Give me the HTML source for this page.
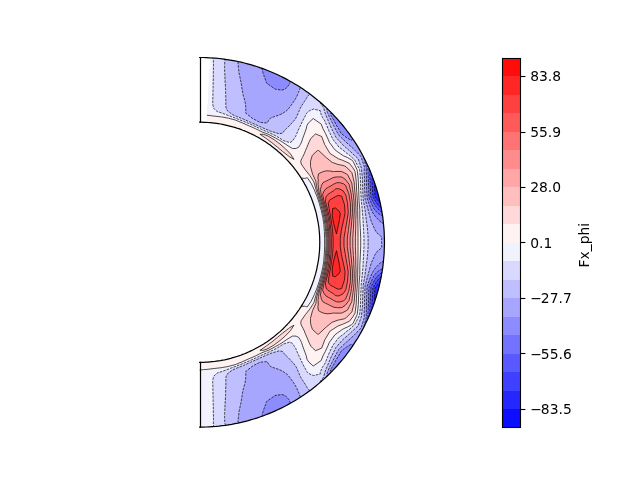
<!DOCTYPE html>
<html><head><meta charset="utf-8"><title>Fx_phi</title>
<style>html,body{margin:0;padding:0;background:#fff}svg{display:block}</style></head>
<body>
<svg width="640" height="480" viewBox="0 0 640 480">
<rect width="640" height="480" fill="#fff"/>
<g shape-rendering="crispEdges" stroke="none">
<path fill="#2626ff" fill-rule="evenodd" d="M374.5,185.5 374.6,184.7 374.4,182.9 374.1,181.6 375.4,185.2 378.4,195.3 380.3,203.5 379.8,202.1 379.2,201.5 378.2,200.8 376.7,198.9 374.8,196.3 374.7,191.5 374.4,186.9ZM374.8,288.3 376.7,285.7 378.2,283.8 379.2,283.1 379.8,282.5 380.3,281.1 378.4,289.3 375.4,299.4 374.1,303 374.4,301.7 374.6,299.9 374.5,299.1 374.4,297.7 374.7,293.1Z"/>
<path fill="#4040ff" fill-rule="evenodd" d="M371.7,175.3 371.7,174.8 371.9,175.3 374.1,181.6 374.4,182.9 374.6,184.7 374.5,185.5 374.4,186.9 374.7,191.5 374.8,196.3 376.7,198.9 378.2,200.8 379.2,201.5 379.8,202.1 380.3,203.5 380.8,205.6 381.3,208.4 381,207.7 380.5,207.4 379.6,206.8 378.8,206 378.2,205.2 376.1,202.2 373.3,197.6 372.9,196.8 372.8,195.7 372.4,188.5 372.3,186.2 372.1,183.3 372,179.7 372,177.5 371.8,175.5ZM378.8,278.6 379.6,277.8 380.5,277.2 381,276.9 381.3,276.2 380.8,279 380.3,281.1 379.8,282.5 379.2,283.1 378.2,283.8 376.7,285.7 374.8,288.3 374.7,293.1 374.4,297.7 374.5,299.1 374.6,299.9 374.4,301.7 374.1,303 371.9,309.3 371.7,309.8 371.7,309.3 371.8,309.1 372,307.1 372,304.9 372.1,301.3 372.3,298.4 372.4,296.1 372.8,288.9 372.9,287.8 373.3,287 376.1,282.4 378.2,279.4Z"/>
<path fill="#5959ff" fill-rule="evenodd" d="M369.8,176 369.8,173.9 369.7,171.9 369.5,170.1 369.6,169.9 371.7,174.8 371.7,175.3 371.8,175.5 372,177.5 372,179.7 372.1,183.3 372.3,186.2 372.4,188.5 372.8,195.7 372.9,196.8 373.3,197.6 376.1,202.2 378.2,205.2 378.8,206 379.6,206.8 380.5,207.4 381,207.7 381.3,208.4 381.9,212.1 381.6,211.6 381.2,211.5 380.3,211 379,210 377.3,208.2 375.9,206.6 375.1,205.4 371.8,199.3 370.9,197.3 370.8,195.5 370.3,187.2 370.3,186.9 370.2,182.1 369.9,177ZM375.9,278 377.3,276.4 379,274.6 380.3,273.6 381.2,273.1 381.6,273 381.9,272.5 381.3,276.2 381,276.9 380.5,277.2 379.6,277.8 378.8,278.6 378.2,279.4 376.1,282.4 373.3,287 372.9,287.8 372.8,288.9 372.4,296.1 372.3,298.4 372.1,301.3 372,304.9 372,307.1 371.8,309.1 371.7,309.3 371.7,309.8 369.6,314.7 369.5,314.5 369.7,312.7 369.8,310.7 369.8,308.6 369.9,307.6 370.2,302.5 370.3,297.7 370.3,297.4 370.8,289.1 370.9,287.3 371.8,285.3 375.1,279.2Z"/>
<path fill="#7373ff" fill-rule="evenodd" d="M367.4,165.7 367.2,164.7 367.4,164.8 367.7,165.5 369.6,169.9 369.5,170.1 369.7,171.9 369.8,173.9 369.8,176 369.9,177 370.2,182.1 370.3,186.9 370.3,187.2 370.8,195.5 370.9,197.3 371.8,199.3 375.1,205.4 375.9,206.6 377.3,208.2 379,210 380.3,211 381.2,211.5 381.6,211.6 381.9,212.1 382.5,215.7 382.3,215.5 381.8,215.5 381,215.2 379.8,214.5 378.3,213.5 376.3,211.7 373.8,208.6 373.1,207.2 369.4,198.7 369.1,197.8 369,197.2 368.5,187.6 368.5,187.4 368.4,181.7 368.2,176.7 368.2,176.4 368,172.5 367.9,169.4 367.6,166.8ZM373.1,277.4 373.8,276 376.3,272.9 378.3,271.1 379.8,270.1 381,269.4 381.8,269.1 382.3,269.1 382.5,268.9 381.9,272.5 381.6,273 381.2,273.1 380.3,273.6 379,274.6 377.3,276.4 375.9,278 375.1,279.2 371.8,285.3 370.9,287.3 370.8,289.1 370.3,297.4 370.3,297.7 370.2,302.5 369.9,307.6 369.8,308.6 369.8,310.7 369.7,312.7 369.5,314.5 369.6,314.7 367.7,319.1 367.4,319.8 367.2,319.9 367.4,318.9 367.6,317.8 367.9,315.2 368,312.1 368.2,308.2 368.2,307.9 368.4,302.9 368.5,297.2 368.5,297 369,287.4 369.1,286.8 369.4,285.9Z"/>
<path fill="#8c8cff" fill-rule="evenodd" d="M261.7,68.3 261.5,68.2 261.8,68.2 271.6,72.1 281.2,76.5 290.5,81.4 290.5,81.4 290.7,81.7 290.2,81.9 290.2,81.9 290,82.4 289.8,82.6 289.6,83.7 288.9,84.9 287.9,86.2 287.5,86.7 286.6,87.6 285.1,89.2 281.7,90.1 275,89.1 266.8,83.3 266.4,82.7 265.5,79.9 264.5,77.2 263.6,74.8 263,72.8 262.5,71.2 262.2,69.9 262.2,69.1 262.4,68.7ZM330.7,115 330.3,113.6 331.3,113.5 332,113.6 332,113.3 332.2,113.5 339.3,121.3 346,129.5 352.2,138 353.5,139.9 352.8,139.2 352.3,139.3 352,140.3 350.5,139.9 349.9,139.6 347.7,138.4 343.6,135.4 341,133.3 339,129.5 335.8,124.3 334.7,121.9 331.7,116.6ZM366.1,166.3 365.3,163.7 364.3,159.8 364.3,158.8 364,157.9 367.4,164.8 367.2,164.7 367.4,165.7 367.6,166.8 367.9,169.4 368,172.5 368.2,176.4 368.2,176.7 368.4,181.7 368.5,187.4 368.5,187.6 369,197.2 369.1,197.8 369.4,198.7 373.1,207.2 373.8,208.6 376.3,211.7 378.3,213.5 379.8,214.5 381,215.2 381.8,215.5 382.3,215.5 382.5,215.7 382.6,216 383.5,224.2 383.2,223 382.7,223 382,222.9 380.8,222 379.3,220.8 377.4,218.7 375.9,217 375.2,216.4 372.3,212 370.5,207.7 367.1,198.3 366.6,188.8 366.5,188.1 366.5,182.2 366.4,177.4 366.4,176.3 366.3,171.9 366.3,168.3ZM375.9,267.6 377.4,265.9 379.3,263.8 380.8,262.6 382,261.7 382.7,261.6 383.2,261.6 383.5,260.4 382.6,268.6 382.5,268.9 382.3,269.1 381.8,269.1 381,269.4 379.8,270.1 378.3,271.1 376.3,272.9 373.8,276 373.1,277.4 369.4,285.9 369.1,286.8 369,287.4 368.5,297 368.5,297.2 368.4,302.9 368.2,307.9 368.2,308.2 368,312.1 367.9,315.2 367.6,317.8 367.4,318.9 367.2,319.9 367.4,319.8 364,326.7 364.3,325.8 364.3,324.8 365.3,320.9 366.1,318.3 366.3,316.3 366.3,312.7 366.4,308.3 366.4,307.2 366.5,302.4 366.5,296.5 366.6,295.8 367.1,286.3 370.5,276.9 372.3,272.6 375.2,268.2ZM349.9,345 350.5,344.7 352,344.3 352.3,345.3 352.8,345.4 353.5,344.7 352.2,346.6 346,355.1 339.3,363.3 332.2,371.1 332,371.3 332,371 331.3,371.1 330.3,371 330.7,369.6 331.7,368 334.7,362.7 335.8,360.3 339,355.1 341,351.3 343.6,349.2 347.7,346.2ZM287.5,397.9 287.9,398.4 288.9,399.7 289.6,400.9 289.8,402 290,402.2 290.2,402.7 290.2,402.7 290.7,402.9 290.5,403.2 290.5,403.2 281.2,408.1 271.6,412.5 261.8,416.4 261.5,416.4 261.7,416.3 262.4,415.9 262.2,415.5 262.2,414.7 262.5,413.4 263,411.8 263.6,409.8 264.5,407.4 265.5,404.7 266.4,401.9 266.8,401.3 275,395.5 281.7,394.5 285.1,395.4 286.6,397Z"/>
<path fill="#a6a6ff" fill-rule="evenodd" d="M239,73.1 238.8,71.4 238.6,69.2 238.4,67.2 238.2,65.5 238,64.1 238,63 238.1,62.2 238.1,61.8 238,61.6 241.5,62.3 251.7,65 261.5,68.2 261.7,68.3 262.4,68.7 262.2,69.1 262.2,69.9 262.5,71.2 263,72.8 263.6,74.8 264.5,77.2 265.5,79.9 266.4,82.7 266.8,83.3 275,89.1 281.7,90.1 285.1,89.2 286.6,87.6 287.5,86.7 287.9,86.2 288.9,84.9 289.6,83.7 289.8,82.6 290,82.4 290.2,81.9 290.2,81.9 290.7,81.7 290.5,81.4 290.5,81.4 290.5,81.4 299.6,86.8 300.3,87.3 300.4,87.6 300.2,88 299.9,88.8 299.6,89.9 299.1,91.1 298.4,92.7 297.6,94.4 296.8,96.4 295.7,98.5 294.4,100.7 292.8,102.9 291.1,105.3 289.4,107.7 287.4,110.1 284.7,112 282.4,113.6 281.7,113.9 278.2,115.4 274.2,116.7 270.6,118.1 268.7,120.4 267.2,122.9 267,123 260.6,122.5 258.9,121.8 254,119.3 252.1,118.2 245.8,113.1 245.7,113.1 245.8,110.1 245.7,106.9 245.4,103.6 244.6,100 243.5,96.3 243,94.6 242.7,92.8 242.1,89.4 241.6,86.1 241.1,82.8 240.5,79.7 239.8,76.7 239.2,73.9ZM329.1,116.5 328.7,115.5 327.5,112.4 326.8,110.2 326.9,109.2 327.6,109.2 328.3,109.7 332,113.3 332,113.6 331.3,113.5 330.3,113.6 330.7,115 331.7,116.6 334.7,121.9 335.8,124.3 339,129.5 341,133.3 343.6,135.4 347.7,138.4 349.9,139.6 350.5,139.9 352,140.3 352.3,139.3 352.8,139.2 353.5,139.9 357.9,146.9 363.1,156.1 364,157.9 364.3,158.8 364.3,159.8 365.3,163.7 366.1,166.3 366.3,168.3 366.3,171.9 366.4,176.3 366.4,177.4 366.5,182.2 366.5,188.1 366.6,188.8 367.1,198.3 370.5,207.7 372.3,212 375.2,216.4 375.9,217 377.4,218.7 379.3,220.8 380.8,222 382,222.9 382.7,223 383.2,223 383.5,224.2 383.8,226.5 384.4,237 384.4,247.6 383.8,258.1 383.5,260.4 383.2,261.6 382.7,261.6 382,261.7 380.8,262.6 379.3,263.8 377.4,265.9 375.9,267.6 375.2,268.2 372.3,272.6 370.5,276.9 367.1,286.3 366.6,295.8 366.5,296.5 366.5,302.4 366.4,307.2 366.4,308.3 366.3,312.7 366.3,316.3 366.1,318.3 365.3,320.9 364.3,324.8 364.3,325.8 364,326.7 363.1,328.5 357.9,337.7 353.5,344.7 352.8,345.4 352.3,345.3 352,344.3 350.5,344.7 349.9,345 347.7,346.2 343.6,349.2 341,351.3 339,355.1 335.8,360.3 334.7,362.7 331.7,368 330.7,369.6 330.3,371 331.3,371.1 332,371 332,371.3 328.3,374.9 327.6,375.4 326.9,375.4 326.8,374.4 327.5,372.2 328.7,369.1 329.1,368.1 331.1,364.2 333.9,358.6 334.2,358 338.7,349.5 346,342.4 346.4,342.1 351.7,337.4 353.9,335.3 356.1,333.1 359.9,329.2 361.2,327.6 361.7,325.8 364.4,317.5 364.4,317.2 364.1,313.6 364.4,308.2 364.6,306.5 364.5,301.7 364.6,295.9 364.7,293.8 365.1,285.8 367.7,276.3 370.2,266.8 371.4,262.6 373.9,257.3 374.4,255.7 376.8,251.8 378.8,250.1 380.5,248.7 381.7,247.5 381.7,237.1 380.5,235.9 378.8,234.5 376.8,232.8 374.4,228.9 373.9,227.3 371.4,222 370.2,217.8 367.7,208.3 365.1,198.8 364.7,190.8 364.6,188.7 364.5,182.9 364.6,178.1 364.4,176.4 364.1,171 364.4,167.4 364.4,167.1 361.7,158.8 361.2,157 359.9,155.4 356.1,151.5 353.9,149.3 351.7,147.2 346.4,142.5 346,142.2 338.7,135.1 334.2,126.6 333.9,126 331.1,120.4ZM282.4,371 284.7,372.6 287.4,374.5 289.4,376.9 291.1,379.3 292.8,381.7 294.4,383.9 295.7,386.1 296.8,388.2 297.6,390.2 298.4,391.9 299.1,393.5 299.6,394.7 299.9,395.8 300.2,396.6 300.4,397 300.3,397.3 299.6,397.8 290.5,403.2 290.5,403.2 290.5,403.2 290.7,402.9 290.2,402.7 290.2,402.7 290,402.2 289.8,402 289.6,400.9 288.9,399.7 287.9,398.4 287.5,397.9 286.6,397 285.1,395.4 281.7,394.5 275,395.5 266.8,401.3 266.4,401.9 265.5,404.7 264.5,407.4 263.6,409.8 263,411.8 262.5,413.4 262.2,414.7 262.2,415.5 262.4,415.9 261.7,416.3 261.5,416.4 251.7,419.6 241.5,422.3 238,423 238.1,422.8 238.1,422.4 238,421.6 238,420.5 238.2,419.1 238.4,417.4 238.6,415.4 238.8,413.2 239,411.5 239.2,410.7 239.8,407.9 240.5,404.9 241.1,401.8 241.6,398.5 242.1,395.2 242.7,391.8 243,390 243.5,388.3 244.6,384.6 245.4,381 245.7,377.7 245.8,374.5 245.7,371.5 245.8,371.5 252.1,366.4 254,365.3 258.9,362.8 260.6,362.1 267,361.6 267.2,361.7 268.7,364.2 270.6,366.5 274.2,367.9 278.2,369.2 281.7,370.7Z"/>
<path fill="#bfbfff" fill-rule="evenodd" d="M225.6,92.1 225.6,92.1 225.6,88.9 225.4,85.7 225.2,82.5 225,79.5 224.9,76.6 224.8,73.8 224.6,71.2 224.6,68.8 224.6,66.7 224.7,64.8 224.7,63.1 224.7,61.8 225,60.7 225.3,60 225,59.5 224,59.2 231.2,60.2 238,61.6 238.1,61.8 238.1,62.2 238,63 238,64.1 238.2,65.5 238.4,67.2 238.6,69.2 238.8,71.4 239,73.1 239.2,73.9 239.8,76.7 240.5,79.7 241.1,82.8 241.6,86.1 242.1,89.4 242.7,92.8 243,94.6 243.5,96.3 244.6,100 245.4,103.6 245.7,106.9 245.8,110.1 245.7,113.1 245.8,113.1 252.1,118.2 254,119.3 258.9,121.8 260.6,122.5 267,123 267.2,122.9 268.7,120.4 270.6,118.1 274.2,116.7 278.2,115.4 281.7,113.9 282.4,113.6 284.7,112 287.4,110.1 289.4,107.7 291.1,105.3 292.8,102.9 294.4,100.7 295.7,98.5 296.8,96.4 297.6,94.4 298.4,92.7 299.1,91.1 299.6,89.9 299.9,88.8 300.2,88 300.4,87.6 300.3,87.3 308.3,92.8 309.8,94 309.7,94.1 309.5,94.5 308.8,94.9 308.1,95.8 307.3,96.9 306.5,98.3 305.5,99.9 304.3,101.7 303,103.7 301.6,105.8 300.3,108.2 299.1,110.9 297.9,113.8 296.7,116.7 295.1,119.4 293,121.8 290.8,124.2 288.7,126.5 286.4,128.6 284.3,130.8 282.6,133.1 279.1,133.8 278.6,133.6 271,131.3 270.9,131.3 264,128.4 257.2,125.3 250.4,122.3 243.6,119.2 236.6,116.4 232.3,114.5 229.8,112.6 227.4,110.8 226,107.7 225.8,104.7 225.9,101.7 225.8,98.6 225.7,95.3ZM323.5,107.4 322.6,106.2 320.3,103.3 320.9,103.1 324.1,105.7 324.6,106.2 328.3,109.7 327.6,109.2 326.9,109.2 326.8,110.2 327.5,112.4 328.7,115.5 329.1,116.5 331.1,120.4 333.9,126 334.2,126.6 338.7,135.1 346,142.2 346.4,142.5 351.7,147.2 353.9,149.3 356.1,151.5 359.9,155.4 361.2,157 361.7,158.8 364.4,167.1 364.4,167.4 364.1,171 364.4,176.4 364.6,178.1 364.5,182.9 364.6,188.7 364.7,190.8 365.1,198.8 367.7,208.3 370.2,217.8 371.4,222 373.9,227.3 374.4,228.9 376.8,232.8 378.8,234.5 380.5,235.9 381.7,237.1 381.7,247.5 380.5,248.7 378.8,250.1 376.8,251.8 374.4,255.7 373.9,257.3 371.4,262.6 370.2,266.8 367.7,276.3 365.1,285.8 364.7,293.8 364.6,295.9 364.5,301.7 364.6,306.5 364.4,308.2 364.1,313.6 364.4,317.2 364.4,317.5 361.7,325.8 361.2,327.6 359.9,329.2 356.1,333.1 353.9,335.3 351.7,337.4 346.4,342.1 346,342.4 338.7,349.5 334.2,358 333.9,358.6 331.1,364.2 329.1,368.1 328.7,369.1 327.5,372.2 326.8,374.4 326.9,375.4 327.6,375.4 328.3,374.9 324.6,378.4 324.1,378.9 320.9,381.5 320.3,381.3 322.6,378.4 323.5,377.2 324,375.6 324.6,373.1 325.7,369.8 327.2,366.2 327.7,365.1 330.2,359.2 331.4,356.4 334.3,350.8 335.9,347.4 342.2,340.3 342.5,340 348.8,334.4 350.3,333.1 354.1,329.5 358.1,325.9 361.5,316.2 361.5,315 362.3,307.6 362.5,305.7 362.6,300.2 362.7,295.3 362.9,291 363.2,285.3 364.9,275.8 366.1,266.2 367.4,256.7 368.1,247.1 368.1,237.5 367.4,227.9 366.1,218.4 364.9,208.8 363.2,199.3 362.9,193.6 362.7,189.3 362.6,184.4 362.5,178.9 362.3,177 361.5,169.6 361.5,168.4 358.1,158.7 354.1,155.1 350.3,151.5 348.8,150.2 342.5,144.6 342.2,144.3 335.9,137.2 334.3,133.8 331.4,128.2 330.2,125.4 327.7,119.5 327.2,118.4 325.7,114.8 324.6,111.5 324,109ZM278.6,351 279.1,350.8 282.6,351.5 284.3,353.8 286.4,356 288.7,358.1 290.8,360.4 293,362.8 295.1,365.2 296.7,367.9 297.9,370.8 299.1,373.7 300.3,376.4 301.6,378.8 303,380.9 304.3,382.9 305.5,384.7 306.5,386.3 307.3,387.7 308.1,388.8 308.8,389.7 309.5,390.1 309.7,390.5 309.8,390.6 308.3,391.8 300.3,397.3 300.4,397 300.2,396.6 299.9,395.8 299.6,394.7 299.1,393.5 298.4,391.9 297.6,390.2 296.8,388.2 295.7,386.1 294.4,383.9 292.8,381.7 291.1,379.3 289.4,376.9 287.4,374.5 284.7,372.6 282.4,371 281.7,370.7 278.2,369.2 274.2,367.9 270.6,366.5 268.7,364.2 267.2,361.7 267,361.6 260.6,362.1 258.9,362.8 254,365.3 252.1,366.4 245.8,371.5 245.7,371.5 245.8,374.5 245.7,377.7 245.4,381 244.6,384.6 243.5,388.3 243,390 242.7,391.8 242.1,395.2 241.6,398.5 241.1,401.8 240.5,404.9 239.8,407.9 239.2,410.7 239,411.5 238.8,413.2 238.6,415.4 238.4,417.4 238.2,419.1 238,420.5 238,421.6 238.1,422.4 238.1,422.8 238,423 231.2,424.4 224,425.4 225,425.1 225.3,424.6 225,423.9 224.7,422.8 224.7,421.5 224.7,419.8 224.6,417.9 224.6,415.8 224.6,413.4 224.8,410.8 224.9,408 225,405.1 225.2,402.1 225.4,398.9 225.6,395.7 225.6,392.5 225.6,392.5 225.7,389.3 225.8,386 225.9,382.9 225.8,379.9 226,376.9 227.4,373.8 229.8,372 232.3,370.1 236.6,368.2 243.6,365.4 250.4,362.3 257.2,359.3 264,356.2 270.9,353.3 271,353.3Z"/>
<path fill="#d9d9ff" fill-rule="evenodd" d="M214.9,109.6 213.9,108.6 213,105.8 212.7,102.9 212.8,99.9 212.9,96.8 212.9,93.7 213,90.5 213.1,87.3 213.1,84.2 213.2,81.1 213.3,78.1 213.3,75.2 213.3,72.5 213.4,69.9 213.4,67.6 213.5,65.4 213.5,63.6 213.4,61.9 213.3,60.5 213.4,59.5 213.7,58.7 213.4,58.2 211.8,57.9 220.7,58.7 224,59.2 225,59.5 225.3,60 225,60.7 224.7,61.8 224.7,63.1 224.7,64.8 224.6,66.7 224.6,68.8 224.6,71.2 224.8,73.8 224.9,76.6 225,79.5 225.2,82.5 225.4,85.7 225.6,88.9 225.6,92.1 225.6,92.1 225.7,95.3 225.8,98.6 225.9,101.7 225.8,104.7 226,107.7 227.4,110.8 229.8,112.6 232.3,114.5 236.6,116.4 243.6,119.2 250.4,122.3 257.2,125.3 264,128.4 270.9,131.3 271,131.3 278.6,133.6 279.1,133.8 282.6,133.1 284.3,130.8 286.4,128.6 288.7,126.5 290.8,124.2 293,121.8 295.1,119.4 296.7,116.7 297.9,113.8 299.1,110.9 300.3,108.2 301.6,105.8 303,103.7 304.3,101.7 305.5,99.9 306.5,98.3 307.3,96.9 308.1,95.8 308.8,94.9 309.5,94.5 309.7,94.1 309.8,94 316.6,99.2 324.1,105.7 320.9,103.1 320.3,103.3 322.6,106.2 323.5,107.4 324,109 324.6,111.5 325.7,114.8 327.2,118.4 327.7,119.5 330.2,125.4 331.4,128.2 334.3,133.8 335.9,137.2 342.2,144.3 342.5,144.6 348.8,150.2 350.3,151.5 354.1,155.1 358.1,158.7 361.5,168.4 361.5,169.6 362.3,177 362.5,178.9 362.6,184.4 362.7,189.3 362.9,193.6 363.2,199.3 364.9,208.8 366.1,218.4 367.4,227.9 368.1,237.5 368.1,247.1 367.4,256.7 366.1,266.2 364.9,275.8 363.2,285.3 362.9,291 362.7,295.3 362.6,300.2 362.5,305.7 362.3,307.6 361.5,315 361.5,316.2 358.1,325.9 354.1,329.5 350.3,333.1 348.8,334.4 342.5,340 342.2,340.3 335.9,347.4 334.3,350.8 331.4,356.4 330.2,359.2 327.7,365.1 327.2,366.2 325.7,369.8 324.6,373.1 324,375.6 323.5,377.2 322.6,378.4 320.3,381.3 320.9,381.5 324.1,378.9 316.6,385.4 309.8,390.6 309.7,390.5 309.5,390.1 308.8,389.7 308.1,388.8 307.3,387.7 306.5,386.3 305.5,384.7 304.3,382.9 303,380.9 301.6,378.8 300.3,376.4 299.1,373.7 297.9,370.8 296.7,367.9 295.1,365.2 293,362.8 290.8,360.4 288.7,358.1 286.4,356 284.3,353.8 282.6,351.5 279.1,350.8 278.6,351 271,353.3 270.9,353.3 264,356.2 257.2,359.3 250.4,362.3 243.6,365.4 236.6,368.2 232.3,370.1 229.8,372 227.4,373.8 226,376.9 225.8,379.9 225.9,382.9 225.8,386 225.7,389.3 225.6,392.5 225.6,392.5 225.6,395.7 225.4,398.9 225.2,402.1 225,405.1 224.9,408 224.8,410.8 224.6,413.4 224.6,415.8 224.6,417.9 224.7,419.8 224.7,421.5 224.7,422.8 225,423.9 225.3,424.6 225,425.1 224,425.4 220.7,425.9 211.8,426.7 213.4,426.4 213.7,425.9 213.4,425.1 213.3,424.1 213.4,422.7 213.5,421 213.5,419.2 213.4,417 213.4,414.7 213.3,412.1 213.3,409.4 213.3,406.5 213.2,403.5 213.1,400.4 213.1,397.3 213,394.1 212.9,390.9 212.9,387.8 212.8,384.7 212.7,381.7 213,378.8 213.9,376 214.9,375 217.3,373 222,371.5 229.1,368.8 231.4,367.9 236,366.2 242.9,363.5 249.7,360.7 256.4,357.6 263,354.5 267.6,352.6 269.9,351.6 276.6,348.3 283.1,344.3 283.8,343.9 289.9,342 292.4,343.4 294,345.8 295.7,348.3 296.9,351.3 298.2,354.3 299.6,357.3 301.1,360.3 302.4,363.2 303.9,366.1 305.3,368.7 306.6,371.4 308.6,373.3 311,374.6 313.5,375.5 317.9,374.5 320.4,373.8 320.2,372.5 322.3,367.4 324.7,363.8 326.3,360.1 328.7,354.1 329.2,353 333,345.1 338.9,337.5 342.7,334.8 347,331.1 348.7,330.1 354.2,325 354.9,324.2 359.5,315.3 359.7,313.9 360.4,306.1 360.5,304.9 360.6,298.2 360.7,294.6 361.1,287.4 361.2,284.8 362.2,275.2 363,265.8 363.2,262.1 363.5,256.4 364,247 364,237.6 363.5,228.2 363.2,222.5 363,218.8 362.2,209.4 361.2,199.8 361.1,197.2 360.7,190 360.6,186.4 360.5,179.7 360.4,178.5 359.7,170.7 359.5,169.3 354.9,160.4 354.2,159.6 348.7,154.5 347,153.5 342.7,149.8 338.9,147.1 333,139.5 329.2,131.6 328.7,130.5 326.3,124.5 324.7,120.8 322.3,117.2 320.2,112.1 320.4,110.8 317.9,110.1 313.5,109.1 311,110 308.6,111.3 306.6,113.2 305.3,115.9 303.9,118.5 302.4,121.4 301.1,124.3 299.6,127.3 298.2,130.3 296.9,133.3 295.7,136.3 294,138.8 292.4,141.2 289.9,142.6 283.8,140.7 283.1,140.3 276.6,136.3 269.9,133 267.6,132 263,130.1 256.4,127 249.7,123.9 242.9,121.1 236,118.4 231.4,116.7 229.1,115.8 222,113.1 217.3,111.6Z"/>
<path fill="#f2f2ff" fill-rule="evenodd" d="M206.9,115.2 206.9,115.1 207,112.9 207.2,110.6 207.3,108 207.5,105.3 207.6,102.5 207.8,99.5 208,96.4 208.2,93.3 208.4,90.1 208.5,86.9 208.7,83.8 208.9,80.7 209.1,77.7 209.2,74.9 209.4,72.2 209.5,69.6 209.7,67.3 209.8,65.1 209.9,63.2 210,61.6 210.1,60.3 210.1,59.2 210.2,58.4 210.2,58 210.2,57.8 211.8,57.9 213.4,58.2 213.7,58.7 213.4,59.5 213.3,60.5 213.4,61.9 213.5,63.6 213.5,65.4 213.4,67.6 213.4,69.9 213.3,72.5 213.3,75.2 213.3,78.1 213.2,81.1 213.1,84.2 213.1,87.3 213,90.5 212.9,93.7 212.9,96.8 212.8,99.9 212.7,102.9 213,105.8 213.9,108.6 214.9,109.6 217.3,111.6 222,113.1 229.1,115.8 231.4,116.7 236,118.4 242.9,121.1 249.7,123.9 256.4,127 263,130.1 267.6,132 269.9,133 276.6,136.3 283.1,140.3 283.8,140.7 289.9,142.6 292.4,141.2 294,138.8 295.7,136.3 296.9,133.3 298.2,130.3 299.6,127.3 301.1,124.3 302.4,121.4 303.9,118.5 305.3,115.9 306.6,113.2 308.6,111.3 311,110 313.5,109.1 317.9,110.1 320.4,110.8 320.2,112.1 322.3,117.2 324.7,120.8 326.3,124.5 328.7,130.5 329.2,131.6 333,139.5 338.9,147.1 342.7,149.8 347,153.5 348.7,154.5 354.2,159.6 354.9,160.4 359.5,169.3 359.7,170.7 360.4,178.5 360.5,179.7 360.6,186.4 360.7,190 361.1,197.2 361.2,199.8 362.2,209.4 363,218.8 363.2,222.5 363.5,228.2 364,237.6 364,247 363.5,256.4 363.2,262.1 363,265.8 362.2,275.2 361.2,284.8 361.1,287.4 360.7,294.6 360.6,298.2 360.5,304.9 360.4,306.1 359.7,313.9 359.5,315.3 354.9,324.2 354.2,325 348.7,330.1 347,331.1 342.7,334.8 338.9,337.5 333,345.1 329.2,353 328.7,354.1 326.3,360.1 324.7,363.8 322.3,367.4 320.2,372.5 320.4,373.8 317.9,374.5 313.5,375.5 311,374.6 308.6,373.3 306.6,371.4 305.3,368.7 303.9,366.1 302.4,363.2 301.1,360.3 299.6,357.3 298.2,354.3 296.9,351.3 295.7,348.3 294,345.8 292.4,343.4 289.9,342 283.8,343.9 283.1,344.3 276.6,348.3 269.9,351.6 267.6,352.6 263,354.5 256.4,357.6 249.7,360.7 242.9,363.5 236,366.2 231.4,367.9 229.1,368.8 222,371.5 217.3,373 214.9,375 213.9,376 213,378.8 212.7,381.7 212.8,384.7 212.9,387.8 212.9,390.9 213,394.1 213.1,397.3 213.1,400.4 213.2,403.5 213.3,406.5 213.3,409.4 213.3,412.1 213.4,414.7 213.4,417 213.5,419.2 213.5,421 213.4,422.7 213.3,424.1 213.4,425.1 213.7,425.9 213.4,426.4 211.8,426.7 210.2,426.8 199.7,427.1 199.7,426.9 199.7,426.5 199.7,425.7 199.7,424.6 199.7,423.3 199.7,421.6 199.7,419.8 199.7,417.6 199.7,415.3 199.7,412.7 199.7,410 199.7,407.1 199.7,404.1 199.7,401.1 199.7,397.9 199.7,394.8 199.7,391.6 199.7,388.4 199.7,385.4 199.7,382.4 199.7,379.5 199.7,376.8 199.7,374.2 199.7,371.9 199.7,370.1 203.6,369.6 206.9,369.4 214.1,368.5 221.3,367.7 228,366.5 228.5,366.4 230,366 235.5,364.5 242.3,361.7 248.9,358.8 255.5,355.9 262,352.7 265.4,351.4 268.9,350.1 275.4,346.6 279.5,344.3 281.9,342.9 288.1,338.7 292.4,336.1 296,336.1 296.5,336.4 298.6,337.3 300.2,339.8 300.4,340.2 301.6,342.6 302.6,345.9 303.8,349.2 305,352.4 306.2,355.6 307,359.2 307,359.3 308.7,361.9 310.9,363.9 313,365.9 313.2,366.1 321.2,360.5 322.9,356 325.4,351.3 328,345.6 329.4,342.3 334.9,334.8 337.2,333.1 343.2,328.9 343.3,328.8 347.5,327 351.7,324.6 353.1,323.3 357.3,314.3 357.4,313.2 358.3,304.6 358.3,304.1 358.6,295.6 358.7,294 359,284.3 359,284.2 359.8,274.7 359.8,265.4 359.8,265.3 360.3,256.1 360.7,246.9 360.7,237.7 360.3,228.5 359.8,219.3 359.8,219.2 359.8,209.9 359,200.4 359,200.3 358.7,190.6 358.6,189 358.3,180.5 358.3,180 357.4,171.4 357.3,170.3 353.1,161.3 351.7,160 347.5,157.6 343.3,155.8 343.2,155.7 337.2,151.5 334.9,149.8 329.4,142.3 328,139 325.4,133.3 322.9,128.6 321.2,124.1 313.2,118.5 313,118.7 310.9,120.7 308.7,122.7 307,125.3 307,125.4 306.2,129 305,132.2 303.8,135.4 302.6,138.7 301.6,142 300.4,144.4 300.2,144.8 298.6,147.3 296.5,148.2 296,148.5 292.4,148.5 288.1,145.9 281.9,141.7 279.5,140.3 275.4,138 268.9,134.5 265.4,133.2 262,131.9 255.5,128.7 248.9,125.8 242.3,122.9 235.5,120.1 230,118.6 228.5,118.2 228,118.1 221.3,116.9 214.1,116.1ZM302.5,180.3 301.6,178.6 301.7,177.9 302.7,178.1 304.2,178.4 305.7,178.2 306.5,177.9 307.3,177.7 311.2,183.4 314.3,189.9 317,196.6 319.3,203.4 321.2,210.3 322.8,217.4 323.5,221.9 323.8,224.4 324.4,231.6 324.6,238.7 324.6,245.9 324.4,253 323.8,260.2 323.5,262.7 322.8,267.2 321.2,274.3 319.3,281.2 317,288 314.3,294.7 311.2,301.2 307.3,306.9 306.5,306.7 305.7,306.4 304.2,306.2 302.7,306.5 301.7,306.7 301.6,306 302.5,304.3 302.6,304.1 305.9,298.3 308.9,292.2 311.6,285.9 313.9,279.4 315.8,272.8 317.4,266.2 318.5,259.4 319.3,252.6 319.7,245.7 319.7,238.9 319.3,232 318.5,225.2 317.4,218.4 315.8,211.8 313.9,205.2 311.6,198.7 308.9,192.4 305.9,186.3 302.6,180.5Z"/>
<path fill="#fff2f2" fill-rule="evenodd" d="M206.5,122.4 206.5,122.2 206.5,121.8 206.6,121 206.6,119.9 206.7,118.6 206.8,117 206.9,115.2 214.1,116.1 221.3,116.9 228,118.1 228.5,118.2 230,118.6 235.5,120.1 242.3,122.9 248.9,125.8 255.5,128.7 262,131.9 265.4,133.2 268.9,134.5 275.4,138 279.5,140.3 281.9,141.7 288.1,145.9 292.4,148.5 296,148.5 296.5,148.2 298.6,147.3 300.2,144.8 300.4,144.4 301.6,142 302.6,138.7 303.8,135.4 305,132.2 306.2,129 307,125.4 307,125.3 308.7,122.7 310.9,120.7 313,118.7 313.2,118.5 321.2,124.1 322.9,128.6 325.4,133.3 328,139 329.4,142.3 334.9,149.8 337.2,151.5 343.2,155.7 343.3,155.8 347.5,157.6 351.7,160 353.1,161.3 357.3,170.3 357.4,171.4 358.3,180 358.3,180.5 358.6,189 358.7,190.6 359,200.3 359,200.4 359.8,209.9 359.8,219.2 359.8,219.3 360.3,228.5 360.7,237.7 360.7,246.9 360.3,256.1 359.8,265.3 359.8,265.4 359.8,274.7 359,284.2 359,284.3 358.7,294 358.6,295.6 358.3,304.1 358.3,304.6 357.4,313.2 357.3,314.3 353.1,323.3 351.7,324.6 347.5,327 343.3,328.8 343.2,328.9 337.2,333.1 334.9,334.8 329.4,342.3 328,345.6 325.4,351.3 322.9,356 321.2,360.5 313.2,366.1 313,365.9 310.9,363.9 308.7,361.9 307,359.3 307,359.2 306.2,355.6 305,352.4 303.8,349.2 302.6,345.9 301.6,342.6 300.4,340.2 300.2,339.8 298.6,337.3 296.5,336.4 296,336.1 292.4,336.1 288.1,338.7 281.9,342.9 279.5,344.3 275.4,346.6 268.9,350.1 265.4,351.4 262,352.7 255.5,355.9 248.9,358.8 242.3,361.7 235.5,364.5 230,366 228.5,366.4 228,366.5 221.3,367.7 214.1,368.5 206.9,369.4 203.6,369.6 199.7,370.1 199.7,369.7 199.7,367.9 199.7,366.2 199.7,364.9 199.7,363.8 199.7,363 199.7,362.6 199.7,362.4 206.5,362.2 213.3,361.6 220.1,360.6 226.9,359.3 233.5,357.5 240,355.4 246.4,352.9 252.6,350.1 258.7,346.9 264.6,343.3 270.2,339.5 275.7,335.3 280.9,330.8 285.8,326 290.4,320.9 294.8,315.6 298.8,310.1 302.5,304.3 302.6,304.1 302.5,304.3 301.6,306 301.7,306.7 302.7,306.5 304.2,306.2 305.7,306.4 306.5,306.7 307.3,306.9 311.2,301.2 314.3,294.7 317,288 319.3,281.2 321.2,274.3 322.8,267.2 323.5,262.7 323.8,260.2 324.4,253 324.6,245.9 324.6,238.7 324.4,231.6 323.8,224.4 323.5,221.9 322.8,217.4 321.2,210.3 319.3,203.4 317,196.6 314.3,189.9 311.2,183.4 307.3,177.7 306.5,177.9 305.7,178.2 304.2,178.4 302.7,178.1 301.7,177.9 301.6,178.6 302.5,180.3 302.6,180.5 302.5,180.3 298.8,174.5 294.8,169 290.4,163.7 285.8,158.6 280.9,153.8 275.7,149.3 270.2,145.1 264.6,141.3 258.7,137.7 252.6,134.5 246.4,131.7 240,129.2 233.5,127.1 226.9,125.3 220.1,124 213.3,123ZM259.9,134.1 260.5,134.6 266.3,138.6 272,142.8 277.4,147.2 282.8,151.7 288.4,156 289.1,156.6 294,159.4 290.5,154 285.5,148.8 280,144 274.2,139.7 268,136 263.6,134.3 260.7,134.3ZM305.5,150.5 305.4,150.7 304.3,153.6 303,156.3 301.7,158.7 300.7,161.2 301.2,164 305.4,170 310,175.8 313.9,182 315.9,189.2 317,192.8 318.1,196.2 320.3,203.1 322.2,210.1 323.8,217.2 324.9,224.3 325.6,231.5 325.9,238.7 325.9,245.9 325.6,253.1 324.9,260.3 323.8,267.4 322.2,274.5 320.3,281.5 318.1,288.4 317,291.8 315.9,295.4 313.9,302.6 310,308.8 305.4,314.6 301.2,320.6 300.7,323.4 301.7,325.9 303,328.3 304.3,331 305.4,333.9 305.5,334.1 306.8,337.1 308.1,340.2 309.4,343.4 311,346.3 313.2,348.6 315.6,350.7 321.7,348.1 324.7,340 325.2,339.2 329.9,331.3 332.1,329.8 338.2,325.9 338.2,325.9 342.6,324.3 346.9,322.4 349.4,321.3 352.8,316.9 355,313.3 355.2,311.9 356.3,303.3 356.3,302.1 356.7,293.3 356.8,292 357.4,283.8 357.6,277.4 357.7,274.3 357.8,265 358,255.9 358,253.4 358,246.8 358,237.8 358,231.2 358,228.7 357.8,219.6 357.7,210.3 357.6,207.2 357.4,200.8 356.8,192.6 356.7,191.3 356.3,182.5 356.3,181.3 355.2,172.7 355,171.3 352.8,167.7 349.4,163.3 346.9,162.2 342.6,160.3 338.2,158.7 338.2,158.7 332.1,154.8 329.9,153.3 325.2,145.4 324.7,144.6 321.7,136.5 315.6,133.9 313.2,136 311,138.3 309.4,141.2 308.1,144.4 306.8,147.5ZM289.1,328 288.4,328.6 282.8,332.9 277.4,337.4 272,341.8 266.3,346 260.5,350 259.9,350.5 260.7,350.3 263.6,350.3 268,348.6 274.2,344.9 280,340.6 285.5,335.8 290.5,330.6 294,325.2Z"/>
<path fill="#ffd9d9" fill-rule="evenodd" d="M260.5,134.6 259.9,134.1 260.7,134.3 263.6,134.3 268,136 274.2,139.7 280,144 285.5,148.8 290.5,154 294,159.4 289.1,156.6 288.4,156 282.8,151.7 277.4,147.2 272,142.8 266.3,138.6ZM305.4,150.7 305.5,150.5 306.8,147.5 308.1,144.4 309.4,141.2 311,138.3 313.2,136 315.6,133.9 321.7,136.5 324.7,144.6 325.2,145.4 329.9,153.3 332.1,154.8 338.2,158.7 338.2,158.7 342.6,160.3 346.9,162.2 349.4,163.3 352.8,167.7 355,171.3 355.2,172.7 356.3,181.3 356.3,182.5 356.7,191.3 356.8,192.6 357.4,200.8 357.6,207.2 357.7,210.3 357.8,219.6 358,228.7 358,231.2 358,237.8 358,246.8 358,253.4 358,255.9 357.8,265 357.7,274.3 357.6,277.4 357.4,283.8 356.8,292 356.7,293.3 356.3,302.1 356.3,303.3 355.2,311.9 355,313.3 352.8,316.9 349.4,321.3 346.9,322.4 342.6,324.3 338.2,325.9 338.2,325.9 332.1,329.8 329.9,331.3 325.2,339.2 324.7,340 321.7,348.1 315.6,350.7 313.2,348.6 311,346.3 309.4,343.4 308.1,340.2 306.8,337.1 305.5,334.1 305.4,333.9 304.3,331 303,328.3 301.7,325.9 300.7,323.4 301.2,320.6 305.4,314.6 310,308.8 313.9,302.6 315.9,295.4 317,291.8 318.1,288.4 320.3,281.5 322.2,274.5 323.8,267.4 324.9,260.3 325.6,253.1 325.9,245.9 325.9,238.7 325.6,231.5 324.9,224.3 323.8,217.2 322.2,210.1 320.3,203.1 318.1,196.2 317,192.8 315.9,189.2 313.9,182 310,175.8 305.4,170 301.2,164 300.7,161.2 301.7,158.7 303,156.3 304.3,153.6ZM312.8,154.8 312.4,155.3 311.4,158 310.5,161.5 310.5,166.2 310.5,166.5 312.6,174.2 312.6,174.2 315.8,181 316.5,186.4 317,188.7 319.1,195.8 321.3,202.8 323.2,209.8 324.8,216.9 325.9,224.2 326.3,228.8 326.6,231.4 326.9,238.7 326.9,245.9 326.6,253.2 326.3,255.8 325.9,260.4 324.8,267.7 323.2,274.8 321.3,281.8 319.1,288.8 317,295.9 316.5,298.2 315.8,303.6 312.6,310.4 312.6,310.4 310.5,318.1 310.5,318.4 310.5,323.1 311.4,326.6 312.4,329.3 312.8,329.8 315.1,331.9 317.4,334 318.7,334.1 325.1,328 326.5,326.8 332.1,322.2 333.4,321.8 338,320.1 341.9,319.4 344.5,318.7 346.2,317.7 351.9,311.9 354.2,302.5 354.4,299 354.9,292.7 355.5,285.8 355.7,283.3 356,274 356,269.6 355.8,264.8 355.7,255.7 355.4,246.8 355.4,237.8 355.7,228.9 355.8,219.8 356,215 356,210.6 355.7,201.3 355.5,198.8 354.9,191.9 354.4,185.6 354.2,182.1 351.9,172.7 346.2,166.9 344.5,165.9 341.9,165.2 338,164.5 333.4,162.8 332.1,162.4 326.5,157.8 325.1,156.6 318.7,150.5 317.4,150.6 315.1,152.7ZM288.4,328.6 289.1,328 294,325.2 290.5,330.6 285.5,335.8 280,340.6 274.2,344.9 268,348.6 263.6,350.3 260.7,350.3 259.9,350.5 260.5,350 266.3,346 272,341.8 277.4,337.4 282.8,332.9Z"/>
<path fill="#ffbfbf" fill-rule="evenodd" d="M312.4,155.3 312.8,154.8 315.1,152.7 317.4,150.6 318.7,150.5 325.1,156.6 326.5,157.8 332.1,162.4 333.4,162.8 338,164.5 341.9,165.2 344.5,165.9 346.2,166.9 351.9,172.7 354.2,182.1 354.4,185.6 354.9,191.9 355.5,198.8 355.7,201.3 356,210.6 356,215 355.8,219.8 355.7,228.9 355.4,237.8 355.4,246.8 355.7,255.7 355.8,264.8 356,269.6 356,274 355.7,283.3 355.5,285.8 354.9,292.7 354.4,299 354.2,302.5 351.9,311.9 346.2,317.7 344.5,318.7 341.9,319.4 338,320.1 333.4,321.8 332.1,322.2 326.5,326.8 325.1,328 318.7,334.1 317.4,334 315.1,331.9 312.8,329.8 312.4,329.3 311.4,326.6 310.5,323.1 310.5,318.4 310.5,318.1 312.6,310.4 312.6,310.4 315.8,303.6 316.5,298.2 317,295.9 319.1,288.8 321.3,281.8 323.2,274.8 324.8,267.7 325.9,260.4 326.3,255.8 326.6,253.2 326.9,245.9 326.9,238.7 326.6,231.4 326.3,228.8 325.9,224.2 324.8,216.9 323.2,209.8 321.3,202.8 319.1,195.8 317,188.7 316.5,186.4 315.8,181 312.6,174.2 312.6,174.2 310.5,166.5 310.5,166.2 310.5,161.5 311.4,158ZM317.8,178.1 318.3,179.7 318,184.2 318.5,188 319.2,192.6 320,195.4 322.3,202.5 324.2,209.6 325.7,216.7 326.9,224 327.6,231.3 327.9,238.6 327.9,246 327.6,253.3 326.9,260.6 325.7,267.9 324.2,275 322.3,282.1 320,289.2 319.2,292 318.5,296.6 318,300.4 318.3,304.9 317.8,306.5 318.5,310.7 321,312.1 323.8,313.2 327,313.8 330.8,313.5 333.6,313 334.6,313.1 338.1,313.2 341.7,313.1 346.2,310.8 347.6,309.9 351.8,301.6 352.6,295.2 353.1,292.1 354.1,282.9 354.2,278.4 354.3,273.6 353.8,264.5 353.8,263.4 353.4,255.5 352.8,246.7 352.8,237.9 353.4,229.1 353.8,221.2 353.8,220.1 354.3,211 354.2,206.2 354.1,201.7 353.1,192.5 352.6,189.4 351.8,183 347.6,174.7 346.2,173.8 341.7,171.5 338.1,171.4 334.6,171.5 333.6,171.6 330.8,171.1 327,170.8 323.8,171.4 321,172.5 318.5,173.9Z"/>
<path fill="#ffa6a6" fill-rule="evenodd" d="M318.3,179.7 317.8,178.1 318.5,173.9 321,172.5 323.8,171.4 327,170.8 330.8,171.1 333.6,171.6 334.6,171.5 338.1,171.4 341.7,171.5 346.2,173.8 347.6,174.7 351.8,183 352.6,189.4 353.1,192.5 354.1,201.7 354.2,206.2 354.3,211 353.8,220.1 353.8,221.2 353.4,229.1 352.8,237.9 352.8,246.7 353.4,255.5 353.8,263.4 353.8,264.5 354.3,273.6 354.2,278.4 354.1,282.9 353.1,292.1 352.6,295.2 351.8,301.6 347.6,309.9 346.2,310.8 341.7,313.1 338.1,313.2 334.6,313.1 333.6,313 330.8,313.5 327,313.8 323.8,313.2 321,312.1 318.5,310.7 317.8,306.5 318.3,304.9 318,300.4 318.5,296.6 319.2,292 320,289.2 322.3,282.1 324.2,275 325.7,267.9 326.9,260.6 327.6,253.3 327.9,246 327.9,238.6 327.6,231.3 326.9,224 325.7,216.7 324.2,209.6 322.3,202.5 320,195.4 319.2,192.6 318.5,188 318,184.2ZM321.4,185.3 321.2,186.8 320.4,189.3 321.2,195 323.2,202.1 325.2,209.3 326.7,216.5 327.5,221.3 327.9,223.9 328.6,231.2 328.9,238.6 328.9,246 328.6,253.4 327.9,260.7 327.5,263.3 326.7,268.1 325.2,275.3 323.2,282.5 321.2,289.6 320.4,295.3 321.2,297.8 321.4,299.3 323.1,302 325.7,303.3 328.4,304.6 331.1,306 334,307.3 337.3,307.7 340.8,307.7 342.2,307.4 345.3,305.3 349,300.5 351.1,291.5 351.4,288.7 352.3,282.4 352.6,273.3 352.5,271.3 351.8,264.2 351.3,257.7 351,255.3 350.1,246.6 350.1,238 351,229.3 351.3,226.9 351.8,220.4 352.5,213.3 352.6,211.3 352.3,202.2 351.4,195.9 351.1,193.1 349,184.1 345.3,179.3 342.2,177.2 340.8,176.9 337.3,176.9 334,177.3 331.1,178.6 328.4,180 325.7,181.3 323.1,182.6Z"/>
<path fill="#ff8c8c" fill-rule="evenodd" d="M321.2,186.8 321.4,185.3 323.1,182.6 325.7,181.3 328.4,180 331.1,178.6 334,177.3 337.3,176.9 340.8,176.9 342.2,177.2 345.3,179.3 349,184.1 351.1,193.1 351.4,195.9 352.3,202.2 352.6,211.3 352.5,213.3 351.8,220.4 351.3,226.9 351,229.3 350.1,238 350.1,246.6 351,255.3 351.3,257.7 351.8,264.2 352.5,271.3 352.6,273.3 352.3,282.4 351.4,288.7 351.1,291.5 349,300.5 345.3,305.3 342.2,307.4 340.8,307.7 337.3,307.7 334,307.3 331.1,306 328.4,304.6 325.7,303.3 323.1,302 321.4,299.3 321.2,297.8 320.4,295.3 321.2,289.6 323.2,282.5 325.2,275.3 326.7,268.1 327.5,263.3 327.9,260.7 328.6,253.4 328.9,246 328.9,238.6 328.6,231.2 327.9,223.9 327.5,221.3 326.7,216.5 325.2,209.3 323.2,202.1 321.2,195 320.4,189.3ZM324,191.2 322.6,194.4 322.6,194.5 324.2,201.8 326.3,209 327.9,216.3 329.1,223.7 329.8,231.1 330,238.6 330,246 329.8,253.5 329.1,260.9 327.9,268.3 326.3,275.6 324.2,282.8 322.6,290.1 322.6,290.2 324,293.4 325.9,295.9 328.4,297.4 331,298.8 333.7,300.5 336.5,301.8 339.9,302 343.8,300.7 345.7,299.1 348.8,290.8 350.4,281.9 350.4,280.6 350.6,272.9 350.1,266.9 349.6,263.9 348.5,255.1 348.4,254.2 347.3,246.5 347.3,238.1 348.4,230.4 348.5,229.5 349.6,220.7 350.1,217.7 350.6,211.7 350.4,204 350.4,202.7 348.8,193.8 345.7,185.5 343.8,183.9 339.9,182.6 336.5,182.8 333.7,184.1 331,185.8 328.4,187.2 325.9,188.7Z"/>
<path fill="#ff7373" fill-rule="evenodd" d="M322.6,194.4 324,191.2 325.9,188.7 328.4,187.2 331,185.8 333.7,184.1 336.5,182.8 339.9,182.6 343.8,183.9 345.7,185.5 348.8,193.8 350.4,202.7 350.4,204 350.6,211.7 350.1,217.7 349.6,220.7 348.5,229.5 348.4,230.4 347.3,238.1 347.3,246.5 348.4,254.2 348.5,255.1 349.6,263.9 350.1,266.9 350.6,272.9 350.4,280.6 350.4,281.9 348.8,290.8 345.7,299.1 343.8,300.7 339.9,302 336.5,301.8 333.7,300.5 331,298.8 328.4,297.4 325.9,295.9 324,293.4 322.6,290.2 322.6,290.1 324.2,282.8 326.3,275.6 327.9,268.3 329.1,260.9 329.8,253.5 330,246 330,238.6 329.8,231.1 329.1,223.7 327.9,216.3 326.3,209 324.2,201.8 322.6,194.5ZM335.7,188.9 334.7,189.7 333.2,191 330.6,192.6 328.1,194.2 326.1,196.6 325.4,201.4 327.4,208.7 329.1,216.1 330.3,223.5 330.3,224.4 331,231 331.3,238.5 331.3,246.1 331,253.6 330.3,260.2 330.3,261.1 329.1,268.5 327.4,275.9 325.4,283.2 326.1,288 328.1,290.4 330.6,292 333.2,293.6 334.7,294.9 335.7,295.7 337.2,295.9 339,295.9 343.1,293.8 345.8,289.8 347.6,281.2 347.8,277.9 348.3,272.4 347.2,265 346.9,263.5 345.4,254.8 345.3,254.2 344,246.4 344,238.2 345.3,230.4 345.4,229.8 346.9,221.1 347.2,219.6 348.3,212.2 347.8,206.7 347.6,203.4 345.8,194.8 343.1,190.8 339,188.7 337.2,188.7Z"/>
<path fill="#ff5959" fill-rule="evenodd" d="M334.7,189.7 335.7,188.9 337.2,188.7 339,188.7 343.1,190.8 345.8,194.8 347.6,203.4 347.8,206.7 348.3,212.2 347.2,219.6 346.9,221.1 345.4,229.8 345.3,230.4 344,238.2 344,246.4 345.3,254.2 345.4,254.8 346.9,263.5 347.2,265 348.3,272.4 347.8,277.9 347.6,281.2 345.8,289.8 343.1,293.8 339,295.9 337.2,295.9 335.7,295.7 334.7,294.9 333.2,293.6 330.6,292 328.1,290.4 326.1,288 325.4,283.2 327.4,275.9 329.1,268.5 330.3,261.1 330.3,260.2 331,253.6 331.3,246.1 331.3,238.5 331,231 330.3,224.4 330.3,223.5 329.1,216.1 327.4,208.7 325.4,201.4 326.1,196.6 328.1,194.2 330.6,192.6 333.2,191ZM330.1,199.7 329.7,200.1 328.2,202.8 329,208.3 330.4,215.8 331.6,223.3 332.6,230.9 333.1,238.5 333.1,246.1 332.6,253.7 331.6,261.3 330.4,268.8 329,276.3 328.2,281.8 329.7,284.5 330.1,284.9 332.6,286.3 335.2,287.8 338,289.2 341.6,288.6 341.7,288.5 344.4,280.3 344.7,277.4 345.1,271.8 343.9,265.5 343.3,263 341.9,256.7 341.4,254.5 340.3,246.3 340.3,238.3 341.4,230.1 341.9,227.9 343.3,221.6 343.9,219.1 345.1,212.8 344.7,207.2 344.4,204.3 341.7,196.1 341.6,196 338,195.4 335.2,196.8 332.6,198.3Z"/>
<path fill="#ff4040" fill-rule="evenodd" d="M329.7,200.1 330.1,199.7 332.6,198.3 335.2,196.8 338,195.4 341.6,196 341.7,196.1 344.4,204.3 344.7,207.2 345.1,212.8 343.9,219.1 343.3,221.6 341.9,227.9 341.4,230.1 340.3,238.3 340.3,246.3 341.4,254.5 341.9,256.7 343.3,263 343.9,265.5 345.1,271.8 344.7,277.4 344.4,280.3 341.7,288.5 341.6,288.6 338,289.2 335.2,287.8 332.6,286.3 330.1,284.9 329.7,284.5 328.2,281.8 329,276.3 330.4,268.8 331.6,261.3 332.6,253.7 333.1,246.1 333.1,238.5 332.6,230.9 331.6,223.3 330.4,215.8 329,208.3 328.2,202.8ZM332.6,208.5 332.2,215.4 333.5,223.1 335.5,230.6 336.5,233.9 337.2,230.5 338.5,224.4 339,222.3 340.1,215.1 340.4,213.8 339.2,211.2 335.4,207.9ZM336.5,250.7 335.5,254 333.5,261.5 332.2,269.2 332.6,276.1 335.4,276.7 339.2,273.4 340.4,270.8 340.1,269.5 339,262.3 338.5,260.2 337.2,254.1Z"/>
<path fill="#ff2626" fill-rule="evenodd" d="M332.2,215.4 332.6,208.5 335.4,207.9 339.2,211.2 340.4,213.8 340.1,215.1 339,222.3 338.5,224.4 337.2,230.5 336.5,233.9 335.5,230.6 333.5,223.1ZM335.5,254 336.5,250.7 337.2,254.1 338.5,260.2 339,262.3 340.1,269.5 340.4,270.8 339.2,273.4 335.4,276.7 332.6,276.1 332.2,269.2 333.5,261.5Z"/>
</g>
<g fill="none" stroke="#000" stroke-width="0.69" stroke-linejoin="round">
<path stroke-dasharray="2.57 1.11" d="M374.1,181.6 374.4,182.9 374.6,184.7 374.5,185.5 374.4,186.9 374.7,191.5 374.8,196.3 376.7,198.9 378.2,200.8 379.2,201.5 379.8,202.1 380.3,203.5M380.3,281.1 379.8,282.5 379.2,283.1 378.2,283.8 376.7,285.7 374.8,288.3 374.7,293.1 374.4,297.7 374.5,299.1 374.6,299.9 374.4,301.7 374.1,303"/>
<path stroke-dasharray="2.57 1.11" d="M371.7,174.8 371.7,175.3 371.8,175.5 372,177.5 372,179.7 372.1,183.3 372.3,186.2 372.4,188.5 372.8,195.7 372.9,196.8 373.3,197.6 376.1,202.2 378.2,205.2 378.8,206 379.6,206.8 380.5,207.4 381,207.7 381.3,208.4M381.3,276.2 381,276.9 380.5,277.2 379.6,277.8 378.8,278.6 378.2,279.4 376.1,282.4 373.3,287 372.9,287.8 372.8,288.9 372.4,296.1 372.3,298.4 372.1,301.3 372,304.9 372,307.1 371.8,309.1 371.7,309.3 371.7,309.8"/>
<path stroke-dasharray="2.57 1.11" d="M369.6,169.9 369.5,170.1 369.7,171.9 369.8,173.9 369.8,176 369.9,177 370.2,182.1 370.3,186.9 370.3,187.2 370.8,195.5 370.9,197.3 371.8,199.3 375.1,205.4 375.9,206.6 377.3,208.2 379,210 380.3,211 381.2,211.5 381.6,211.6 381.9,212.1M381.9,272.5 381.6,273 381.2,273.1 380.3,273.6 379,274.6 377.3,276.4 375.9,278 375.1,279.2 371.8,285.3 370.9,287.3 370.8,289.1 370.3,297.4 370.3,297.7 370.2,302.5 369.9,307.6 369.8,308.6 369.8,310.7 369.7,312.7 369.5,314.5 369.6,314.7"/>
<path stroke-dasharray="2.57 1.11" d="M367.4,164.8 367.2,164.7 367.4,165.7 367.6,166.8 367.9,169.4 368,172.5 368.2,176.4 368.2,176.7 368.4,181.7 368.5,187.4 368.5,187.6 369,197.2 369.1,197.8 369.4,198.7 373.1,207.2 373.8,208.6 376.3,211.7 378.3,213.5 379.8,214.5 381,215.2 381.8,215.5 382.3,215.5 382.5,215.7M382.5,268.9 382.3,269.1 381.8,269.1 381,269.4 379.8,270.1 378.3,271.1 376.3,272.9 373.8,276 373.1,277.4 369.4,285.9 369.1,286.8 369,287.4 368.5,297 368.5,297.2 368.4,302.9 368.2,307.9 368.2,308.2 368,312.1 367.9,315.2 367.6,317.8 367.4,318.9 367.2,319.9 367.4,319.8"/>
<path stroke-dasharray="2.57 1.11" d="M261.5,68.2 261.7,68.3 262.4,68.7 262.2,69.1 262.2,69.9 262.5,71.2 263,72.8 263.6,74.8 264.5,77.2 265.5,79.9 266.4,82.7 266.8,83.3 275,89.1 281.7,90.1 285.1,89.2 286.6,87.6 287.5,86.7 287.9,86.2 288.9,84.9 289.6,83.7 289.8,82.6 290,82.4 290.2,81.9 290.2,81.9 290.7,81.7 290.5,81.4 290.5,81.4M332,113.3 332,113.6 331.3,113.5 330.3,113.6 330.7,115 331.7,116.6 334.7,121.9 335.8,124.3 339,129.5 341,133.3 343.6,135.4 347.7,138.4 349.9,139.6 350.5,139.9 352,140.3 352.3,139.3 352.8,139.2 353.5,139.9M364,157.9 364.3,158.8 364.3,159.8 365.3,163.7 366.1,166.3 366.3,168.3 366.3,171.9 366.4,176.3 366.4,177.4 366.5,182.2 366.5,188.1 366.6,188.8 367.1,198.3 370.5,207.7 372.3,212 375.2,216.4 375.9,217 377.4,218.7 379.3,220.8 380.8,222 382,222.9 382.7,223 383.2,223 383.5,224.2M383.5,260.4 383.2,261.6 382.7,261.6 382,261.7 380.8,262.6 379.3,263.8 377.4,265.9 375.9,267.6 375.2,268.2 372.3,272.6 370.5,276.9 367.1,286.3 366.6,295.8 366.5,296.5 366.5,302.4 366.4,307.2 366.4,308.3 366.3,312.7 366.3,316.3 366.1,318.3 365.3,320.9 364.3,324.8 364.3,325.8 364,326.7M353.5,344.7 352.8,345.4 352.3,345.3 352,344.3 350.5,344.7 349.9,345 347.7,346.2 343.6,349.2 341,351.3 339,355.1 335.8,360.3 334.7,362.7 331.7,368 330.7,369.6 330.3,371 331.3,371.1 332,371 332,371.3M290.5,403.2 290.5,403.2 290.7,402.9 290.2,402.7 290.2,402.7 290,402.2 289.8,402 289.6,400.9 288.9,399.7 287.9,398.4 287.5,397.9 286.6,397 285.1,395.4 281.7,394.5 275,395.5 266.8,401.3 266.4,401.9 265.5,404.7 264.5,407.4 263.6,409.8 263,411.8 262.5,413.4 262.2,414.7 262.2,415.5 262.4,415.9 261.7,416.3 261.5,416.4"/>
<path stroke-dasharray="2.57 1.11" d="M238,61.6 238.1,61.8 238.1,62.2 238,63 238,64.1 238.2,65.5 238.4,67.2 238.6,69.2 238.8,71.4 239,73.1 239.2,73.9 239.8,76.7 240.5,79.7 241.1,82.8 241.6,86.1 242.1,89.4 242.7,92.8 243,94.6 243.5,96.3 244.6,100 245.4,103.6 245.7,106.9 245.8,110.1 245.7,113.1 245.8,113.1 252.1,118.2 254,119.3 258.9,121.8 260.6,122.5 267,123 267.2,122.9 268.7,120.4 270.6,118.1 274.2,116.7 278.2,115.4 281.7,113.9 282.4,113.6 284.7,112 287.4,110.1 289.4,107.7 291.1,105.3 292.8,102.9 294.4,100.7 295.7,98.5 296.8,96.4 297.6,94.4 298.4,92.7 299.1,91.1 299.6,89.9 299.9,88.8 300.2,88 300.4,87.6 300.3,87.3M328.3,109.7 327.6,109.2 326.9,109.2 326.8,110.2 327.5,112.4 328.7,115.5 329.1,116.5 331.1,120.4 333.9,126 334.2,126.6 338.7,135.1 346,142.2 346.4,142.5 351.7,147.2 353.9,149.3 356.1,151.5 359.9,155.4 361.2,157 361.7,158.8 364.4,167.1 364.4,167.4 364.1,171 364.4,176.4 364.6,178.1 364.5,182.9 364.6,188.7 364.7,190.8 365.1,198.8 367.7,208.3 370.2,217.8 371.4,222 373.9,227.3 374.4,228.9 376.8,232.8 378.8,234.5 380.5,235.9 381.7,237.1 381.7,247.5 380.5,248.7 378.8,250.1 376.8,251.8 374.4,255.7 373.9,257.3 371.4,262.6 370.2,266.8 367.7,276.3 365.1,285.8 364.7,293.8 364.6,295.9 364.5,301.7 364.6,306.5 364.4,308.2 364.1,313.6 364.4,317.2 364.4,317.5 361.7,325.8 361.2,327.6 359.9,329.2 356.1,333.1 353.9,335.3 351.7,337.4 346.4,342.1 346,342.4 338.7,349.5 334.2,358 333.9,358.6 331.1,364.2 329.1,368.1 328.7,369.1 327.5,372.2 326.8,374.4 326.9,375.4 327.6,375.4 328.3,374.9M300.3,397.3 300.4,397 300.2,396.6 299.9,395.8 299.6,394.7 299.1,393.5 298.4,391.9 297.6,390.2 296.8,388.2 295.7,386.1 294.4,383.9 292.8,381.7 291.1,379.3 289.4,376.9 287.4,374.5 284.7,372.6 282.4,371 281.7,370.7 278.2,369.2 274.2,367.9 270.6,366.5 268.7,364.2 267.2,361.7 267,361.6 260.6,362.1 258.9,362.8 254,365.3 252.1,366.4 245.8,371.5 245.7,371.5 245.8,374.5 245.7,377.7 245.4,381 244.6,384.6 243.5,388.3 243,390 242.7,391.8 242.1,395.2 241.6,398.5 241.1,401.8 240.5,404.9 239.8,407.9 239.2,410.7 239,411.5 238.8,413.2 238.6,415.4 238.4,417.4 238.2,419.1 238,420.5 238,421.6 238.1,422.4 238.1,422.8 238,423"/>
<path stroke-dasharray="2.57 1.11" d="M224,59.2 225,59.5 225.3,60 225,60.7 224.7,61.8 224.7,63.1 224.7,64.8 224.6,66.7 224.6,68.8 224.6,71.2 224.8,73.8 224.9,76.6 225,79.5 225.2,82.5 225.4,85.7 225.6,88.9 225.6,92.1 225.6,92.1 225.7,95.3 225.8,98.6 225.9,101.7 225.8,104.7 226,107.7 227.4,110.8 229.8,112.6 232.3,114.5 236.6,116.4 243.6,119.2 250.4,122.3 257.2,125.3 264,128.4 270.9,131.3 271,131.3 278.6,133.6 279.1,133.8 282.6,133.1 284.3,130.8 286.4,128.6 288.7,126.5 290.8,124.2 293,121.8 295.1,119.4 296.7,116.7 297.9,113.8 299.1,110.9 300.3,108.2 301.6,105.8 303,103.7 304.3,101.7 305.5,99.9 306.5,98.3 307.3,96.9 308.1,95.8 308.8,94.9 309.5,94.5 309.7,94.1 309.8,94M324.1,105.7 320.9,103.1 320.3,103.3 322.6,106.2 323.5,107.4 324,109 324.6,111.5 325.7,114.8 327.2,118.4 327.7,119.5 330.2,125.4 331.4,128.2 334.3,133.8 335.9,137.2 342.2,144.3 342.5,144.6 348.8,150.2 350.3,151.5 354.1,155.1 358.1,158.7 361.5,168.4 361.5,169.6 362.3,177 362.5,178.9 362.6,184.4 362.7,189.3 362.9,193.6 363.2,199.3 364.9,208.8 366.1,218.4 367.4,227.9 368.1,237.5 368.1,247.1 367.4,256.7 366.1,266.2 364.9,275.8 363.2,285.3 362.9,291 362.7,295.3 362.6,300.2 362.5,305.7 362.3,307.6 361.5,315 361.5,316.2 358.1,325.9 354.1,329.5 350.3,333.1 348.8,334.4 342.5,340 342.2,340.3 335.9,347.4 334.3,350.8 331.4,356.4 330.2,359.2 327.7,365.1 327.2,366.2 325.7,369.8 324.6,373.1 324,375.6 323.5,377.2 322.6,378.4 320.3,381.3 320.9,381.5 324.1,378.9M309.8,390.6 309.7,390.5 309.5,390.1 308.8,389.7 308.1,388.8 307.3,387.7 306.5,386.3 305.5,384.7 304.3,382.9 303,380.9 301.6,378.8 300.3,376.4 299.1,373.7 297.9,370.8 296.7,367.9 295.1,365.2 293,362.8 290.8,360.4 288.7,358.1 286.4,356 284.3,353.8 282.6,351.5 279.1,350.8 278.6,351 271,353.3 270.9,353.3 264,356.2 257.2,359.3 250.4,362.3 243.6,365.4 236.6,368.2 232.3,370.1 229.8,372 227.4,373.8 226,376.9 225.8,379.9 225.9,382.9 225.8,386 225.7,389.3 225.6,392.5 225.6,392.5 225.6,395.7 225.4,398.9 225.2,402.1 225,405.1 224.9,408 224.8,410.8 224.6,413.4 224.6,415.8 224.6,417.9 224.7,419.8 224.7,421.5 224.7,422.8 225,423.9 225.3,424.6 225,425.1 224,425.4"/>
<path stroke-dasharray="2.57 1.11" d="M211.8,57.9 213.4,58.2 213.7,58.7 213.4,59.5 213.3,60.5 213.4,61.9 213.5,63.6 213.5,65.4 213.4,67.6 213.4,69.9 213.3,72.5 213.3,75.2 213.3,78.1 213.2,81.1 213.1,84.2 213.1,87.3 213,90.5 212.9,93.7 212.9,96.8 212.8,99.9 212.7,102.9 213,105.8 213.9,108.6 214.9,109.6 217.3,111.6 222,113.1 229.1,115.8 231.4,116.7 236,118.4 242.9,121.1 249.7,123.9 256.4,127 263,130.1 267.6,132 269.9,133 276.6,136.3 283.1,140.3 283.8,140.7 289.9,142.6 292.4,141.2 294,138.8 295.7,136.3 296.9,133.3 298.2,130.3 299.6,127.3 301.1,124.3 302.4,121.4 303.9,118.5 305.3,115.9 306.6,113.2 308.6,111.3 311,110 313.5,109.1 317.9,110.1 320.4,110.8 320.2,112.1 322.3,117.2 324.7,120.8 326.3,124.5 328.7,130.5 329.2,131.6 333,139.5 338.9,147.1 342.7,149.8 347,153.5 348.7,154.5 354.2,159.6 354.9,160.4 359.5,169.3 359.7,170.7 360.4,178.5 360.5,179.7 360.6,186.4 360.7,190 361.1,197.2 361.2,199.8 362.2,209.4 363,218.8 363.2,222.5 363.5,228.2 364,237.6 364,247 363.5,256.4 363.2,262.1 363,265.8 362.2,275.2 361.2,284.8 361.1,287.4 360.7,294.6 360.6,298.2 360.5,304.9 360.4,306.1 359.7,313.9 359.5,315.3 354.9,324.2 354.2,325 348.7,330.1 347,331.1 342.7,334.8 338.9,337.5 333,345.1 329.2,353 328.7,354.1 326.3,360.1 324.7,363.8 322.3,367.4 320.2,372.5 320.4,373.8 317.9,374.5 313.5,375.5 311,374.6 308.6,373.3 306.6,371.4 305.3,368.7 303.9,366.1 302.4,363.2 301.1,360.3 299.6,357.3 298.2,354.3 296.9,351.3 295.7,348.3 294,345.8 292.4,343.4 289.9,342 283.8,343.9 283.1,344.3 276.6,348.3 269.9,351.6 267.6,352.6 263,354.5 256.4,357.6 249.7,360.7 242.9,363.5 236,366.2 231.4,367.9 229.1,368.8 222,371.5 217.3,373 214.9,375 213.9,376 213,378.8 212.7,381.7 212.8,384.7 212.9,387.8 212.9,390.9 213,394.1 213.1,397.3 213.1,400.4 213.2,403.5 213.3,406.5 213.3,409.4 213.3,412.1 213.4,414.7 213.4,417 213.5,419.2 213.5,421 213.4,422.7 213.3,424.1 213.4,425.1 213.7,425.9 213.4,426.4 211.8,426.7"/>
<path d="M206.9,115.2 214.1,116.1 221.3,116.9 228,118.1 228.5,118.2 230,118.6 235.5,120.1 242.3,122.9 248.9,125.8 255.5,128.7 262,131.9 265.4,133.2 268.9,134.5 275.4,138 279.5,140.3 281.9,141.7 288.1,145.9 292.4,148.5 296,148.5 296.5,148.2 298.6,147.3 300.2,144.8 300.4,144.4 301.6,142 302.6,138.7 303.8,135.4 305,132.2 306.2,129 307,125.4 307,125.3 308.7,122.7 310.9,120.7 313,118.7 313.2,118.5 321.2,124.1 322.9,128.6 325.4,133.3 328,139 329.4,142.3 334.9,149.8 337.2,151.5 343.2,155.7 343.3,155.8 347.5,157.6 351.7,160 353.1,161.3 357.3,170.3 357.4,171.4 358.3,180 358.3,180.5 358.6,189 358.7,190.6 359,200.3 359,200.4 359.8,209.9 359.8,219.2 359.8,219.3 360.3,228.5 360.7,237.7 360.7,246.9 360.3,256.1 359.8,265.3 359.8,265.4 359.8,274.7 359,284.2 359,284.3 358.7,294 358.6,295.6 358.3,304.1 358.3,304.6 357.4,313.2 357.3,314.3 353.1,323.3 351.7,324.6 347.5,327 343.3,328.8 343.2,328.9 337.2,333.1 334.9,334.8 329.4,342.3 328,345.6 325.4,351.3 322.9,356 321.2,360.5 313.2,366.1 313,365.9 310.9,363.9 308.7,361.9 307,359.3 307,359.2 306.2,355.6 305,352.4 303.8,349.2 302.6,345.9 301.6,342.6 300.4,340.2 300.2,339.8 298.6,337.3 296.5,336.4 296,336.1 292.4,336.1 288.1,338.7 281.9,342.9 279.5,344.3 275.4,346.6 268.9,350.1 265.4,351.4 262,352.7 255.5,355.9 248.9,358.8 242.3,361.7 235.5,364.5 230,366 228.5,366.4 228,366.5 221.3,367.7 214.1,368.5 206.9,369.4 203.6,369.6 199.7,370.1M302.6,304.1 302.5,304.3 301.6,306 301.7,306.7 302.7,306.5 304.2,306.2 305.7,306.4 306.5,306.7 307.3,306.9 311.2,301.2 314.3,294.7 317,288 319.3,281.2 321.2,274.3 322.8,267.2 323.5,262.7 323.8,260.2 324.4,253 324.6,245.9 324.6,238.7 324.4,231.6 323.8,224.4 323.5,221.9 322.8,217.4 321.2,210.3 319.3,203.4 317,196.6 314.3,189.9 311.2,183.4 307.3,177.7 306.5,177.9 305.7,178.2 304.2,178.4 302.7,178.1 301.7,177.9 301.6,178.6 302.5,180.3 302.6,180.5"/>
<path d="M260.5,134.6 259.9,134.1 260.7,134.3 263.6,134.3 268,136 274.2,139.7 280,144 285.5,148.8 290.5,154 294,159.4 289.1,156.6 288.4,156 282.8,151.7 277.4,147.2 272,142.8 266.3,138.6 260.5,134.6M305.4,150.7 305.5,150.5 306.8,147.5 308.1,144.4 309.4,141.2 311,138.3 313.2,136 315.6,133.9 321.7,136.5 324.7,144.6 325.2,145.4 329.9,153.3 332.1,154.8 338.2,158.7 338.2,158.7 342.6,160.3 346.9,162.2 349.4,163.3 352.8,167.7 355,171.3 355.2,172.7 356.3,181.3 356.3,182.5 356.7,191.3 356.8,192.6 357.4,200.8 357.6,207.2 357.7,210.3 357.8,219.6 358,228.7 358,231.2 358,237.8 358,246.8 358,253.4 358,255.9 357.8,265 357.7,274.3 357.6,277.4 357.4,283.8 356.8,292 356.7,293.3 356.3,302.1 356.3,303.3 355.2,311.9 355,313.3 352.8,316.9 349.4,321.3 346.9,322.4 342.6,324.3 338.2,325.9 338.2,325.9 332.1,329.8 329.9,331.3 325.2,339.2 324.7,340 321.7,348.1 315.6,350.7 313.2,348.6 311,346.3 309.4,343.4 308.1,340.2 306.8,337.1 305.5,334.1 305.4,333.9 304.3,331 303,328.3 301.7,325.9 300.7,323.4 301.2,320.6 305.4,314.6 310,308.8 313.9,302.6 315.9,295.4 317,291.8 318.1,288.4 320.3,281.5 322.2,274.5 323.8,267.4 324.9,260.3 325.6,253.1 325.9,245.9 325.9,238.7 325.6,231.5 324.9,224.3 323.8,217.2 322.2,210.1 320.3,203.1 318.1,196.2 317,192.8 315.9,189.2 313.9,182 310,175.8 305.4,170 301.2,164 300.7,161.2 301.7,158.7 303,156.3 304.3,153.6 305.4,150.7M288.4,328.6 289.1,328 294,325.2 290.5,330.6 285.5,335.8 280,340.6 274.2,344.9 268,348.6 263.6,350.3 260.7,350.3 259.9,350.5 260.5,350 266.3,346 272,341.8 277.4,337.4 282.8,332.9 288.4,328.6"/>
<path d="M312.4,155.3 312.8,154.8 315.1,152.7 317.4,150.6 318.7,150.5 325.1,156.6 326.5,157.8 332.1,162.4 333.4,162.8 338,164.5 341.9,165.2 344.5,165.9 346.2,166.9 351.9,172.7 354.2,182.1 354.4,185.6 354.9,191.9 355.5,198.8 355.7,201.3 356,210.6 356,215 355.8,219.8 355.7,228.9 355.4,237.8 355.4,246.8 355.7,255.7 355.8,264.8 356,269.6 356,274 355.7,283.3 355.5,285.8 354.9,292.7 354.4,299 354.2,302.5 351.9,311.9 346.2,317.7 344.5,318.7 341.9,319.4 338,320.1 333.4,321.8 332.1,322.2 326.5,326.8 325.1,328 318.7,334.1 317.4,334 315.1,331.9 312.8,329.8 312.4,329.3 311.4,326.6 310.5,323.1 310.5,318.4 310.5,318.1 312.6,310.4 312.6,310.4 315.8,303.6 316.5,298.2 317,295.9 319.1,288.8 321.3,281.8 323.2,274.8 324.8,267.7 325.9,260.4 326.3,255.8 326.6,253.2 326.9,245.9 326.9,238.7 326.6,231.4 326.3,228.8 325.9,224.2 324.8,216.9 323.2,209.8 321.3,202.8 319.1,195.8 317,188.7 316.5,186.4 315.8,181 312.6,174.2 312.6,174.2 310.5,166.5 310.5,166.2 310.5,161.5 311.4,158 312.4,155.3"/>
<path d="M318.3,179.7 317.8,178.1 318.5,173.9 321,172.5 323.8,171.4 327,170.8 330.8,171.1 333.6,171.6 334.6,171.5 338.1,171.4 341.7,171.5 346.2,173.8 347.6,174.7 351.8,183 352.6,189.4 353.1,192.5 354.1,201.7 354.2,206.2 354.3,211 353.8,220.1 353.8,221.2 353.4,229.1 352.8,237.9 352.8,246.7 353.4,255.5 353.8,263.4 353.8,264.5 354.3,273.6 354.2,278.4 354.1,282.9 353.1,292.1 352.6,295.2 351.8,301.6 347.6,309.9 346.2,310.8 341.7,313.1 338.1,313.2 334.6,313.1 333.6,313 330.8,313.5 327,313.8 323.8,313.2 321,312.1 318.5,310.7 317.8,306.5 318.3,304.9 318,300.4 318.5,296.6 319.2,292 320,289.2 322.3,282.1 324.2,275 325.7,267.9 326.9,260.6 327.6,253.3 327.9,246 327.9,238.6 327.6,231.3 326.9,224 325.7,216.7 324.2,209.6 322.3,202.5 320,195.4 319.2,192.6 318.5,188 318,184.2 318.3,179.7"/>
<path d="M321.2,186.8 321.4,185.3 323.1,182.6 325.7,181.3 328.4,180 331.1,178.6 334,177.3 337.3,176.9 340.8,176.9 342.2,177.2 345.3,179.3 349,184.1 351.1,193.1 351.4,195.9 352.3,202.2 352.6,211.3 352.5,213.3 351.8,220.4 351.3,226.9 351,229.3 350.1,238 350.1,246.6 351,255.3 351.3,257.7 351.8,264.2 352.5,271.3 352.6,273.3 352.3,282.4 351.4,288.7 351.1,291.5 349,300.5 345.3,305.3 342.2,307.4 340.8,307.7 337.3,307.7 334,307.3 331.1,306 328.4,304.6 325.7,303.3 323.1,302 321.4,299.3 321.2,297.8 320.4,295.3 321.2,289.6 323.2,282.5 325.2,275.3 326.7,268.1 327.5,263.3 327.9,260.7 328.6,253.4 328.9,246 328.9,238.6 328.6,231.2 327.9,223.9 327.5,221.3 326.7,216.5 325.2,209.3 323.2,202.1 321.2,195 320.4,189.3 321.2,186.8"/>
<path d="M322.6,194.4 324,191.2 325.9,188.7 328.4,187.2 331,185.8 333.7,184.1 336.5,182.8 339.9,182.6 343.8,183.9 345.7,185.5 348.8,193.8 350.4,202.7 350.4,204 350.6,211.7 350.1,217.7 349.6,220.7 348.5,229.5 348.4,230.4 347.3,238.1 347.3,246.5 348.4,254.2 348.5,255.1 349.6,263.9 350.1,266.9 350.6,272.9 350.4,280.6 350.4,281.9 348.8,290.8 345.7,299.1 343.8,300.7 339.9,302 336.5,301.8 333.7,300.5 331,298.8 328.4,297.4 325.9,295.9 324,293.4 322.6,290.2 322.6,290.1 324.2,282.8 326.3,275.6 327.9,268.3 329.1,260.9 329.8,253.5 330,246 330,238.6 329.8,231.1 329.1,223.7 327.9,216.3 326.3,209 324.2,201.8 322.6,194.5 322.6,194.4"/>
<path d="M334.7,189.7 335.7,188.9 337.2,188.7 339,188.7 343.1,190.8 345.8,194.8 347.6,203.4 347.8,206.7 348.3,212.2 347.2,219.6 346.9,221.1 345.4,229.8 345.3,230.4 344,238.2 344,246.4 345.3,254.2 345.4,254.8 346.9,263.5 347.2,265 348.3,272.4 347.8,277.9 347.6,281.2 345.8,289.8 343.1,293.8 339,295.9 337.2,295.9 335.7,295.7 334.7,294.9 333.2,293.6 330.6,292 328.1,290.4 326.1,288 325.4,283.2 327.4,275.9 329.1,268.5 330.3,261.1 330.3,260.2 331,253.6 331.3,246.1 331.3,238.5 331,231 330.3,224.4 330.3,223.5 329.1,216.1 327.4,208.7 325.4,201.4 326.1,196.6 328.1,194.2 330.6,192.6 333.2,191 334.7,189.7"/>
<path d="M329.7,200.1 330.1,199.7 332.6,198.3 335.2,196.8 338,195.4 341.6,196 341.7,196.1 344.4,204.3 344.7,207.2 345.1,212.8 343.9,219.1 343.3,221.6 341.9,227.9 341.4,230.1 340.3,238.3 340.3,246.3 341.4,254.5 341.9,256.7 343.3,263 343.9,265.5 345.1,271.8 344.7,277.4 344.4,280.3 341.7,288.5 341.6,288.6 338,289.2 335.2,287.8 332.6,286.3 330.1,284.9 329.7,284.5 328.2,281.8 329,276.3 330.4,268.8 331.6,261.3 332.6,253.7 333.1,246.1 333.1,238.5 332.6,230.9 331.6,223.3 330.4,215.8 329,208.3 328.2,202.8 329.7,200.1"/>
<path d="M332.2,215.4 332.6,208.5 335.4,207.9 339.2,211.2 340.4,213.8 340.1,215.1 339,222.3 338.5,224.4 337.2,230.5 336.5,233.9 335.5,230.6 333.5,223.1 332.2,215.4M335.5,254 336.5,250.7 337.2,254.1 338.5,260.2 339,262.3 340.1,269.5 340.4,270.8 339.2,273.4 335.4,276.7 332.6,276.1 332.2,269.2 333.5,261.5 335.5,254"/>
</g>
<g fill="none" stroke="#000" stroke-width="1.22" stroke-linecap="square">
<path d="M199.7,122.2 201.7,122.2 203.8,122.3 205.9,122.4 208,122.5 210.1,122.7 212.2,122.9 214.3,123.1 216.4,123.4 218.4,123.7 220.5,124 222.6,124.4 224.6,124.8 226.7,125.3 228.7,125.8 230.7,126.3 232.8,126.9 234.8,127.4 236.8,128.1 238.8,128.7 240.7,129.4 242.7,130.2 244.6,130.9 246.6,131.7 248.5,132.6 250.4,133.5 252.3,134.4 254.2,135.3 256,136.3 257.9,137.3 259.7,138.3 261.5,139.4 263.3,140.4 265.1,141.6 266.8,142.7 268.5,143.9 270.2,145.1 271.9,146.4 273.6,147.7 275.2,149 276.8,150.3 278.4,151.7 280,153 281.6,154.5 283.1,155.9 284.6,157.4 286,158.9 287.5,160.4 288.9,161.9 290.3,163.5 291.7,165.1 293,166.7 294.3,168.4 295.6,170 296.8,171.7 298,173.4 299.2,175.1 300.4,176.9 301.5,178.7 302.6,180.4 303.7,182.2 304.7,184.1 305.7,185.9 306.7,187.8 307.6,189.7 308.5,191.5 309.4,193.5 310.2,195.4 311,197.3 311.8,199.3 312.5,201.2 313.2,203.2 313.9,205.2 314.5,207.2 315.1,209.2 315.7,211.2 316.2,213.2 316.7,215.3 317.1,217.3 317.5,219.4 317.9,221.4 318.3,223.5 318.6,225.6 318.9,227.7 319.1,229.7 319.3,231.8 319.5,233.9 319.6,236 319.7,238.1 319.7,240.2 319.8,242.3 319.7,244.4 319.7,246.5 319.6,248.6 319.5,250.7 319.3,252.8 319.1,254.9 318.9,256.9 318.6,259 318.3,261.1 317.9,263.2 317.5,265.2 317.1,267.3 316.7,269.3 316.2,271.4 315.7,273.4 315.1,275.4 314.5,277.4 313.9,279.4 313.2,281.4 312.5,283.4 311.8,285.3 311,287.3 310.2,289.2 309.4,291.1 308.5,293.1 307.6,294.9 306.7,296.8 305.7,298.7 304.7,300.5 303.7,302.3 302.6,304.2 301.5,305.9 300.4,307.7 299.2,309.5 298,311.2 296.8,312.9 295.6,314.6 294.3,316.2 293,317.9 291.7,319.5 290.3,321.1 288.9,322.7 287.5,324.2 286,325.7 284.6,327.2 283.1,328.7 281.6,330.1 280,331.6 278.4,332.9 276.8,334.3 275.2,335.6 273.6,336.9 271.9,338.2 270.2,339.5 268.5,340.7 266.8,341.9 265.1,343 263.3,344.2 261.5,345.2 259.7,346.3 257.9,347.3 256,348.3 254.2,349.3 252.3,350.2 250.4,351.1 248.5,352 246.6,352.9 244.6,353.7 242.7,354.4 240.7,355.2 238.8,355.9 236.8,356.5 234.8,357.2 232.8,357.7 230.7,358.3 228.7,358.8 226.7,359.3 224.6,359.8 222.6,360.2 220.5,360.6 218.4,360.9 216.4,361.2 214.3,361.5 212.2,361.7 210.1,361.9 208,362.1 205.9,362.2 203.8,362.3 201.7,362.4 199.7,362.4"/>
<path d="M199.7,57.5 202.9,57.5 206.1,57.6 209.3,57.8 212.5,58 215.8,58.2 219,58.5 222.2,58.9 225.4,59.3 228.6,59.8 231.7,60.3 234.9,60.9 238.1,61.5 241.2,62.2 244.4,63 247.5,63.8 250.6,64.7 253.7,65.6 256.8,66.5 259.8,67.6 262.9,68.6 265.9,69.8 268.9,71 271.9,72.2 274.8,73.5 277.7,74.8 280.7,76.2 283.5,77.6 286.4,79.1 289.2,80.7 292.1,82.3 294.8,83.9 297.6,85.6 300.3,87.3 303,89.1 305.6,90.9 308.3,92.8 310.9,94.7 313.4,96.7 315.9,98.7 318.4,100.7 320.9,102.8 323.3,105 325.7,107.1 328,109.4 330.3,111.6 332.6,113.9 334.8,116.3 337,118.6 339.1,121.1 341.2,123.5 343.3,126 345.3,128.5 347.2,131.1 349.2,133.7 351,136.3 352.9,139 354.6,141.7 356.4,144.4 358.1,147.1 359.7,149.9 361.3,152.7 362.8,155.5 364.3,158.4 365.7,161.3 367.1,164.2 368.5,167.1 369.8,170.1 371,173.1 372.2,176.1 373.3,179.1 374.4,182.1 375.4,185.2 376.4,188.3 377.3,191.4 378.2,194.5 379,197.6 379.7,200.7 380.4,203.9 381.1,207 381.6,210.2 382.2,213.4 382.7,216.6 383.1,219.8 383.4,223 383.7,226.2 384,229.4 384.2,232.6 384.3,235.9 384.4,239.1 384.5,242.3 384.4,245.5 384.3,248.7 384.2,252 384,255.2 383.7,258.4 383.4,261.6 383.1,264.8 382.7,268 382.2,271.2 381.6,274.4 381.1,277.6 380.4,280.7 379.7,283.9 379,287 378.2,290.1 377.3,293.2 376.4,296.3 375.4,299.4 374.4,302.5 373.3,305.5 372.2,308.5 371,311.5 369.8,314.5 368.5,317.5 367.1,320.4 365.7,323.3 364.3,326.2 362.8,329.1 361.3,331.9 359.7,334.7 358.1,337.5 356.4,340.2 354.6,342.9 352.9,345.6 351,348.3 349.2,350.9 347.2,353.5 345.3,356.1 343.3,358.6 341.2,361.1 339.1,363.5 337,366 334.8,368.3 332.6,370.7 330.3,373 328,375.2 325.7,377.5 323.3,379.6 320.9,381.8 318.4,383.9 315.9,385.9 313.4,387.9 310.9,389.9 308.3,391.8 305.6,393.7 303,395.5 300.3,397.3 297.6,399 294.8,400.7 292.1,402.3 289.2,403.9 286.4,405.5 283.5,407 280.7,408.4 277.7,409.8 274.8,411.1 271.9,412.4 268.9,413.6 265.9,414.8 262.9,416 259.8,417 256.8,418.1 253.7,419 250.6,419.9 247.5,420.8 244.4,421.6 241.2,422.4 238.1,423.1 234.9,423.7 231.7,424.3 228.6,424.8 225.4,425.3 222.2,425.7 219,426.1 215.8,426.4 212.5,426.6 209.3,426.8 206.1,427 202.9,427.1 199.7,427.1"/>
<path d="M200.5,57.5 V122.2 M200.5,362.4 V427.1"/>
</g>
<g shape-rendering="crispEdges" stroke="none">
<rect x="502.5" y="408.7" width="18" height="18.8" fill="#0d0dff"/>
<rect x="502.5" y="390.2" width="18" height="18.8" fill="#2626ff"/>
<rect x="502.5" y="371.8" width="18" height="18.8" fill="#4040ff"/>
<rect x="502.5" y="353.3" width="18" height="18.8" fill="#5959ff"/>
<rect x="502.5" y="334.8" width="18" height="18.8" fill="#7373ff"/>
<rect x="502.5" y="316.3" width="18" height="18.8" fill="#8c8cff"/>
<rect x="502.5" y="297.8" width="18" height="18.8" fill="#a6a6ff"/>
<rect x="502.5" y="279.4" width="18" height="18.8" fill="#bfbfff"/>
<rect x="502.5" y="260.9" width="18" height="18.8" fill="#d9d9ff"/>
<rect x="502.5" y="242.4" width="18" height="18.8" fill="#f2f2ff"/>
<rect x="502.5" y="223.9" width="18" height="18.8" fill="#fff2f2"/>
<rect x="502.5" y="205.4" width="18" height="18.8" fill="#ffd9d9"/>
<rect x="502.5" y="187" width="18" height="18.8" fill="#ffbfbf"/>
<rect x="502.5" y="168.5" width="18" height="18.8" fill="#ffa6a6"/>
<rect x="502.5" y="150" width="18" height="18.8" fill="#ff8c8c"/>
<rect x="502.5" y="131.5" width="18" height="18.8" fill="#ff7373"/>
<rect x="502.5" y="113" width="18" height="18.8" fill="#ff5959"/>
<rect x="502.5" y="94.6" width="18" height="18.8" fill="#ff4040"/>
<rect x="502.5" y="76.1" width="18" height="18.8" fill="#ff2626"/>
<rect x="502.5" y="57.6" width="18" height="18.8" fill="#ff0d0d"/>
</g>
<rect x="502.5" y="58.5" width="18.0" height="369.0" fill="none" stroke="#000" stroke-width="1.1"/>
<g stroke="#000" stroke-width="1.1">
<path d="M520.5,409.5 h4.9"/>
<path d="M520.5,353.5 h4.9"/>
<path d="M520.5,298.5 h4.9"/>
<path d="M520.5,242.5 h4.9"/>
<path d="M520.5,187.5 h4.9"/>
<path d="M520.5,132.5 h4.9"/>
<path d="M520.5,76.5 h4.9"/>
</g>
<g font-family="'DejaVu Sans', 'Liberation Sans', sans-serif" font-size="13.89px" fill="#000">
<text x="530.2" y="413.9">−<tspan dx="-1">83.5</tspan></text>
<text x="530.2" y="358.5">−<tspan dx="-1">55.6</tspan></text>
<text x="530.2" y="303">−<tspan dx="-1">27.7</tspan></text>
<text x="530.2" y="247.6">0.1</text>
<text x="530.2" y="192.2">28.0</text>
<text x="530.2" y="136.7">55.9</text>
<text x="530.2" y="81.3">83.8</text>
<text transform="translate(589,245.2) rotate(-90)" text-anchor="middle">Fx_phi</text>
</g>
</svg>
</body></html>
